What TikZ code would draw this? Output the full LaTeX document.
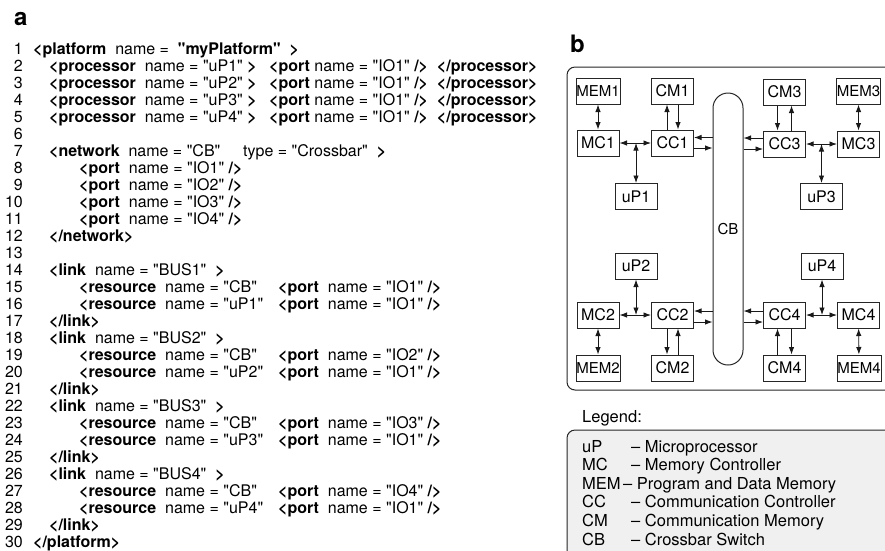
\documentclass[tikz,border=0pt]{standalone}
\usepackage{fontspec}
\setmainfont{TeX Gyre Heros}[Ligatures=TeXOff]
\usetikzlibrary{arrows.meta,calc}

\newcommand{\tg}[1]{\textbf{#1}}

\begin{document}
\begin{tikzpicture}[x=1pt,y=-1pt]
\tikzset{ >={Latex[length=7.5pt,width=5.5pt]},
  blk/.style={draw=black!85, line width=1pt, minimum width=42pt, minimum height=26pt,
              inner sep=0pt, font=\fontsize{16}{16}\selectfont},
  memblk/.style={blk, minimum width=44pt, font=\fontsize{15}{15}\selectfont},
  code/.style={anchor=base west, inner sep=0pt, font=\fontsize{16}{17}\selectfont},
  num/.style={anchor=base east, inner sep=0pt, font=\fontsize{16}{17}\selectfont},
  leg/.style={anchor=base west, inner sep=0pt, font=\fontsize{16.5}{18}\selectfont},
  panel/.style={anchor=base west, inner sep=0pt, font=\fontsize{24}{24}\selectfont\bfseries},
  lnk/.style={line width=0.9pt, black!90},
}

\useasboundingbox (0,0) rectangle (885,550);

%% panel labels
\node [panel] (pa) at (14,25) {a};
\node [panel] (pb) at (570,52) {b};

%% ---- a: platform description ----
\foreach \i in {1,...,30}
  \node [num] (n\i) at (23,{54+17*(\i-1)}) {\i};

\node [code] (l1) at (33,54) {\tg{<platform}\ \ name =\ \ \tg{"myPlatform"\ \ >}};

\foreach \i in {1,...,4} {
  \node [code] (p\i)  at (49,{54+17*\i})  {\tg{<processor}\ \ name = "uP\i" \tg{>}};
  \node [code] (pp\i) at (269,{54+17*\i}) {\tg{<port}\ name = "IO1" \tg{/>}\ \ \tg{</processor>}};
}

\node [code] (l7)  at (49,156)  {\tg{<network}\ \ name = "CB"};
\node [code] (l7b) at (243,156) {type = "Crossbar"\ \ \tg{>}};
\foreach \i in {1,...,4}
  \node [code] (np\i) at (79,{156+17*\i}) {\tg{<port}\ \ name = "IO\i" \tg{/>}};
\node [code] (l12) at (49,241) {\tg{</network>}};

\foreach \i in {1,...,4} {
  \pgfmathsetmacro{\yy}{275+68*(\i-1)}
  \node [code] (lk\i)  at (49,\yy)     {\tg{<link}\ \ name = "BUS\i"\ \ \tg{>}};
  \node [code] (ra\i)  at (79,\yy+17)  {\tg{<resource}\ \ name = "CB"};
  \node [code] (rap\i) at (278,\yy+17) {\tg{<port}\ \ name = "IO\i" \tg{/>}};
  \node [code] (rb\i)  at (79,\yy+34)  {\tg{<resource}\ \ name = "uP\i"};
  \node [code] (rbp\i) at (278,\yy+34) {\tg{<port}\ \ name = "IO1" \tg{/>}};
  \node [code] (le\i)  at (49,\yy+51)  {\tg{</link>}};
}
\node [code] (l30) at (33,547) {\tg{</platform>}};

%% ---- b: block diagram ----
\draw [line width=1pt, black!85, rounded corners=8pt] (567,67) rectangle (895,390);

\node [draw=black!85, line width=1pt, rounded corners=15pt, minimum width=30pt,
       minimum height=272pt, inner sep=0pt, font=\fontsize{15}{15}\selectfont]
       (CB) at (728,229) {CB};

% upper half
\node [memblk] (MEM1) at (598,91)    {MEM1};
\node [blk]    (CM1)  at (672.5,91)  {CM1};
\node [blk]    (CM3)  at (784.5,92)  {CM3};
\node [memblk] (MEM3) at (858.5,91)  {MEM3};
\node [blk]    (MC1)  at (598,143)   {MC1};
\node [blk]    (CC1)  at (672.5,143) {CC1};
\node [blk]    (CC3)  at (784.5,144) {CC3};
\node [blk]    (MC3)  at (858.5,144) {MC3};
\node [blk]    (uP1)  at (636,196.5) {uP1};
\node [blk]    (uP3)  at (821.5,196.5) {uP3};

% lower half
\node [blk]    (uP2)  at (636,266)   {uP2};
\node [blk]    (uP4)  at (822,266)   {uP4};
\node [blk]    (MC2)  at (598,315)   {MC2};
\node [blk]    (CC2)  at (672.5,315) {CC2};
\node [blk]    (CC4)  at (784.5,315) {CC4};
\node [blk]    (MC4)  at (858.5,315) {MC4};
\node [memblk] (MEM2) at (598,368)   {MEM2};
\node [blk]    (CM2)  at (672.5,368) {CM2};
\node [blk]    (CM4)  at (784.5,368) {CM4};
\node [memblk] (MEM4) at (859,368)   {MEM4};

% memory links
\draw [lnk,<->] (MEM1) -- (MC1);
\draw [lnk,<->] (MEM3) -- (MC3);
\draw [lnk,<->] (MEM2) -- (MC2);
\draw [lnk,<->] (MEM4) -- (MC4);

% local buses with processor taps
\coordinate (j1) at (uP1 |- MC1);
\coordinate (j3) at (uP3 |- MC3);
\coordinate (j2) at (uP2 |- MC2);
\coordinate (j4) at (uP4 |- MC4);
\draw [lnk,<->] (MC1) -- (CC1);
\draw [lnk,<->] (CC3) -- (MC3);
\draw [lnk,<->] (MC2) -- (CC2);
\draw [lnk,<->] (CC4) -- (MC4);
\draw [lnk,<->] (j1) -- (uP1);
\draw [lnk,<->] (j3) -- (uP3);
\draw [lnk,<->] (j2) -- (uP2);
\draw [lnk,<->] (j4) -- (uP4);

% communication memories
\draw [lnk,->] ($(CC1.north)+(-5.5,0)$) -- ($(CM1.south)+(-5.5,0)$);
\draw [lnk,<-] ($(CC1.north)+(5.5,0)$)  -- ($(CM1.south)+(5.5,0)$);
\draw [lnk,<-] ($(CC3.north)+(-7,0)$)   -- ($(CM3.south)+(-7,0)$);
\draw [lnk,->] ($(CC3.north)+(7,0)$)    -- ($(CM3.south)+(7,0)$);
\draw [lnk,->] ($(CC2.south)+(-5.5,0)$) -- ($(CM2.north)+(-5.5,0)$);
\draw [lnk,<-] ($(CC2.south)+(5.5,0)$)  -- ($(CM2.north)+(5.5,0)$);
\draw [lnk,<-] ($(CC4.south)+(-7,0)$)   -- ($(CM4.north)+(-7,0)$);
\draw [lnk,->] ($(CC4.south)+(7,0)$)    -- ($(CM4.north)+(7,0)$);

% crossbar ports
\draw [lnk,<-] ($(CC1.east)+(0,-5.5)$) -- ($(CB.west |- CC1.east)+(0,-5.5)$);
\draw [lnk,->] ($(CC1.east)+(0,5)$)    -- ($(CB.west |- CC1.east)+(0,5)$);
\draw [lnk,->] ($(CC3.west)+(0,-6)$)   -- ($(CB.east |- CC3.west)+(0,-6)$);
\draw [lnk,<-] ($(CC3.west)+(0,5)$)    -- ($(CB.east |- CC3.west)+(0,5)$);
\draw [lnk,<-] ($(CC2.east)+(0,-4)$)   -- ($(CB.west |- CC2.east)+(0,-4)$);
\draw [lnk,->] ($(CC2.east)+(0,7)$)    -- ($(CB.west |- CC2.east)+(0,7)$);
\draw [lnk,->] ($(CC4.west)+(0,-4)$)   -- ($(CB.east |- CC4.west)+(0,-4)$);
\draw [lnk,<-] ($(CC4.west)+(0,7)$)    -- ($(CB.east |- CC4.west)+(0,7)$);

%% legend
\node [leg] (lg) at (582,422) {Legend:};
\draw [line width=1pt, black!85, fill=black!6, rounded corners=8pt] (567,430) rectangle (895,570);
\foreach \k/\x/\d [count=\i] in {uP/631/Microprocessor, MC/631/Memory Controller,
    MEM/623/Program and Data Memory, CC/631/Communication Controller,
    CM/631/Communication Memory, CB/631/Crossbar Switch} {
  \node [leg] (k\i) at (582,{452+18.6*(\i-1)}) {\k};
  \node [leg] (d\i) at (\x,{452+18.6*(\i-1)}) {– \d};
}

\end{tikzpicture}
\end{document}
